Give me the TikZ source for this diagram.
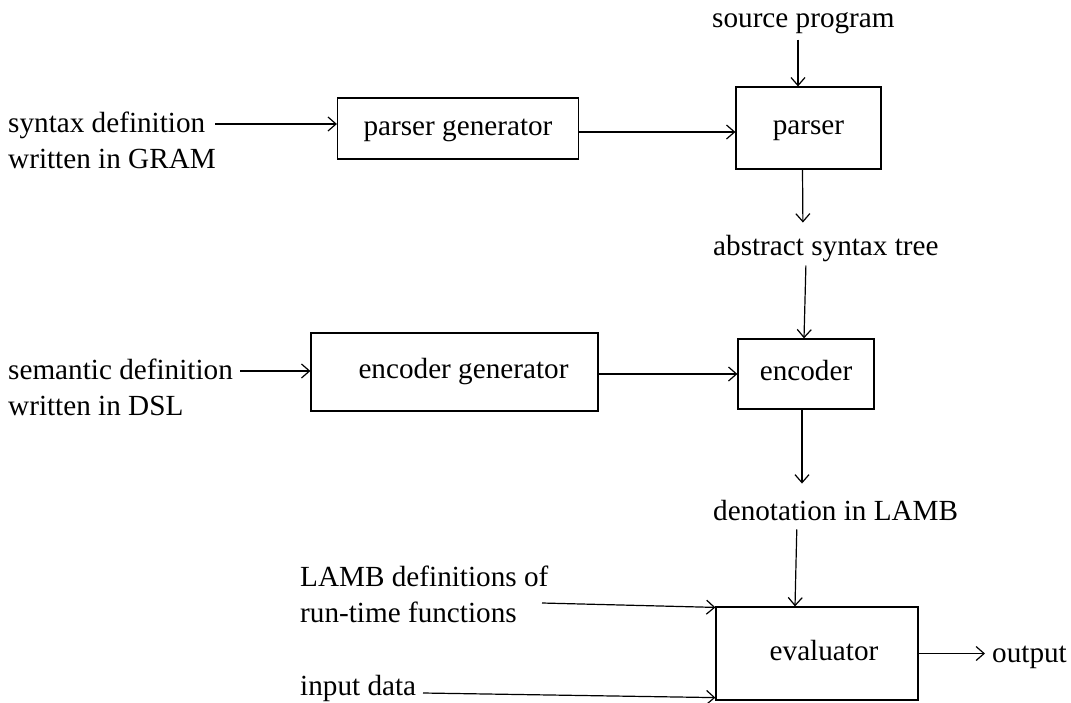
\documentclass[tikz,border=0pt]{standalone}
\usepackage{fontspec}
\setmainfont{Liberation Serif}
\usetikzlibrary{arrows.meta,calc}
\begin{document}
\begin{tikzpicture}[x=1pt,y=-1pt,
  every node/.style={font=\fontsize{29.2}{36}\selectfont},
  box/.style={draw,line width=1.2pt,inner sep=0pt,text height=20pt,text depth=7pt},
  lbl/.style={inner sep=0pt,anchor=base west,align=left},
  conn/.style={line width=1.2pt,-{Straight Barb[length=8pt,width=14pt,line width=1.2pt]}}]
\useasboundingbox (0,0) rectangle (1071,702);
% boxes
\node[box,minimum width=241,minimum height=61] (pgen) at (458,128.5) {parser generator};
\node[box,minimum width=145,minimum height=82] (parser) at (808.5,128) {parser};
\node[box,minimum width=287,minimum height=78] (egen) at (454.5,372) {\hspace*{18pt}encoder generator};
\node[box,minimum width=136,minimum height=70] (enc) at (806,374) {encoder};
\node[box,minimum width=202,minimum height=93] (eval) at (817,653.5) {\hspace*{14pt}evaluator};
% labels
\node[lbl] (src) at (712,27) {source program};
\node[lbl] (syn) at (8,168) {syntax definition\\written in GRAM};
\node[lbl] (sem) at (8,415) {semantic definition\\written in DSL};
\node[lbl] (ast) at (713,255) {abstract syntax tree};
\node[lbl] (den) at (713,520) {denotation in LAMB};
\node[lbl] (lamb) at (300,622) {LAMB definitions of\\run-time functions};
\node[lbl] (inp) at (300,695) {input data};
\node[lbl] (out) at (992,662) {output};
% connector ends
\coordinate (synA) at (215,124);
\coordinate (semA) at (240,371);
\coordinate (lambA) at (542,603);
\coordinate (inpA) at (423,693);
% connectors
\draw[conn] (synA) -- (synA -| pgen.west);
\draw[conn] ([yshift=-3.5]pgen.east) -- ([yshift=-3.5]pgen.east -| parser.west);
\draw[conn,shorten <=6pt] ([xshift=86]src.south west) -- ([xshift=-10.5]parser.north);
\draw[conn,shorten >=12pt] ([xshift=-6]parser.south) -- ([xshift=90]ast.north west);
\draw[conn,shorten <=4pt] ([xshift=93]ast.south west) -- ([xshift=-2]enc.north);
\draw[conn] (semA) -- (semA -| egen.west);
\draw[conn] ([yshift=-2]egen.east) -- ([yshift=-2]egen.east -| enc.west);
\draw[conn,shorten >=16pt] ([xshift=-4]enc.south) -- ([xshift=89]den.north west);
\draw[conn,shorten <=9pt] ([xshift=84]den.south west) -- ([xshift=-22]eval.north);
\draw[conn] (lambA) -- ([yshift=-1]eval.north west);
\draw[conn] (inpA) -- ([yshift=3]eval.south west);
\draw[conn,shorten >=7pt] (eval.east) -- (out.west |- eval.east);
\end{tikzpicture}
\end{document}
